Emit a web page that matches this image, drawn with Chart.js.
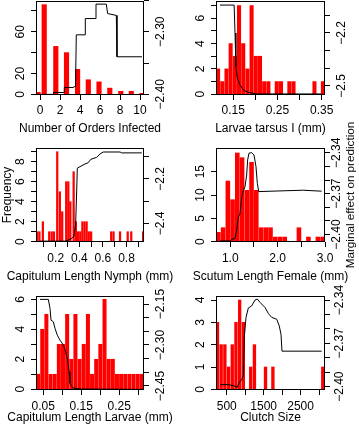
<!DOCTYPE html>
<html>
<head>
<meta charset="utf-8">
<title>Marginal effects and histograms</title>
<script src="https://cdn.jsdelivr.net/npm/chart.js@4.4.1/dist/chart.umd.min.js"></script>
<style>
  html, body { margin: 0; padding: 0; background: #fff; }
  #fig { position: relative; width: 359px; height: 432px; overflow: hidden; }
  #fig canvas { position: absolute; }
  #mlab { position: absolute; width: 220px; left: 240px; top: 188px; text-align: center;
          font: 11.7px "Liberation Sans", Arial, Helvetica, sans-serif; line-height: 14px;
          transform: rotate(-90deg); white-space: nowrap; color: #000; }
</style>
</head>
<body>
<div id="fig">
  <canvas id="p1" width="180" height="147" style="left:0;top:0"></canvas>
  <canvas id="p2" width="179" height="147" style="left:180px;top:0"></canvas>
  <canvas id="p3" width="180" height="163" style="left:0;top:131px"></canvas>
  <canvas id="p4" width="179" height="163" style="left:180px;top:131px"></canvas>
  <canvas id="p5" width="180" height="154" style="left:0;top:278px"></canvas>
  <canvas id="p6" width="179" height="154" style="left:180px;top:278px"></canvas>
  <div id="mlab">Marginal effect on prediction</div>
</div>
<script>
// 6 panels: histogram (left axis, counts) + marginal-effect curve (right axis).
var M = "\u2212";

// --- Number of Orders Infected
var P1_BX = [-0.2, 0.42, 1.58, 2.65, 3.76, 4.83, 5.9, 6.98, 8.08, 9.13, 10.2];
var P1_BY = [2, 86, 46, 40, 24, 14, 12, 6, 3, 3, 1];
var P1_LX = [0, 1.36, 1.36, 2.43, 2.43, 3.3, 3.55, 3.63, 4.53, 4.53, 5.6, 5.6, 6.63, 6.76, 7.63, 7.7, 10.2];
var P1_LY = [-2.400, -2.400, -2.397, -2.397, -2.389, -2.389, -2.387, -2.305, -2.305, -2.279, -2.279, -2.256, -2.256, -2.271, -2.274, -2.340, -2.340];
var P1_XT = [0, 2, 4, 6, 8, 10], P1_XL = ["0", "2", "4", "6", "8", "10"];
var P1_YT = [0, 20, 40, 60, 80], P1_YL = ["0", "20", "", "60", ""];
var P1_Y2T = [-2.40, -2.35, -2.30, -2.25], P1_Y2L = [M + "2.40", "", M + "2.30", ""];

// --- Larvae tarsus I (mm)
var P2_BX = [0.1157, 0.1252, 0.1347, 0.1441, 0.1536, 0.1631, 0.1726, 0.1821, 0.1915, 0.2010, 0.2105, 0.2200, 0.2295, 0.2484, 0.2579, 0.2769, 0.2863, 0.3337, 0.3527];
var P2_BY = [2, 1, 2, 4, 3, 7, 4, 2, 7, 3, 3, 1, 1, 1, 1, 1, 1, 1, 1];
var P2_LX = [0.12, 0.152, 0.154, 0.156, 0.159, 0.165, 0.173, 0.184, 0.203, 0.35];
var P2_LY = [-2.042, -2.042, -2.2, -2.391, -2.451, -2.494, -2.523, -2.536, -2.545, -2.545];
var P2_XT = [0.15, 0.20, 0.25, 0.30, 0.35], P2_XL = ["0.15", "", "0.25", "", "0.35"];
var P2_YT = [0, 1, 2, 3, 4, 5, 6, 7], P2_YL = ["0", "", "2", "", "4", "", "6", ""];
var P2_Y2T = [-2.5, -2.4, -2.3, -2.2, -2.1], P2_Y2L = [M + "2.5", "", "", M + "2.2", ""];

// --- Capitulum Length Nymph (mm)
var P3_BX = [0.043, 0.062, 0.091, 0.145, 0.166, 0.185, 0.213, 0.235, 0.255, 0.289, 0.307, 0.324, 0.352, 0.371, 0.39, 0.408, 0.426, 0.444, 0.462, 0.48, 0.5, 0.67, 0.69, 0.745, 0.81, 0.84, 0.94];
var P3_BY = [1, 1, 2, 1, 1, 1, 9, 5, 3, 6, 6, 4, 7, 2, 1, 1, 2, 2, 2, 1, 1, 1, 1, 1, 1, 1, 1];
var P3_LX = [0.067, 0.279, 0.307, 0.336, 0.355, 0.369, 0.378, 0.383, 0.406, 0.448, 0.476, 0.497, 0.547, 0.575, 0.603, 0.745, 0.759, 0.929];
var P3_LY = [-2.48, -2.48, -2.475, -2.468, -2.457, -2.40, -2.25, -2.152, -2.145, -2.133, -2.127, -2.112, -2.103, -2.088, -2.079, -2.079, -2.083, -2.083];
var P3_XT = [0.1, 0.2, 0.3, 0.4, 0.5, 0.6, 0.7, 0.8, 0.9], P3_XL = ["", "0.2", "", "0.4", "", "0.6", "", "0.8", ""];
var P3_YT = [0, 1, 2, 3, 4, 5, 6, 7, 8, 9], P3_YL = ["0", "", "2", "", "4", "", "6", "", "8", ""];
var P3_Y2T = [-2.4, -2.3, -2.2, -2.1], P3_Y2L = [M + "2.4", "", M + "2.2", ""];

// --- Scutum Length Female (mm)
var P4_BX = [0.75, 0.85, 0.95, 1.05, 1.15, 1.25, 1.35, 1.45, 1.55, 1.65, 1.75, 1.85, 1.95, 2.05, 2.15, 2.45, 2.65, 2.85, 2.95];
var P4_BY = [2, 3, 13, 9, 19, 18, 11, 17, 11, 3, 3, 3, 1, 1, 1, 3, 1, 1, 1];
var P4_LX = [0.784, 0.995, 1.031, 1.10, 1.137, 1.17, 1.206, 1.241, 1.276, 1.312, 1.347, 1.368, 1.396, 1.453, 1.502, 1.544, 1.572, 1.601, 2.05, 2.54, 2.93];
var P4_LY = [-2.4047, -2.4047, -2.4035, -2.403, -2.3967, -2.3873, -2.3849, -2.3734, -2.3678, -2.3649, -2.3563, -2.3453, -2.3403, -2.3399, -2.3416, -2.3502, -2.3624, -2.3685, -2.368, -2.3675, -2.3682];
var P4_XT = [1.0, 1.5, 2.0, 2.5, 3.0], P4_XL = ["1.0", "", "2.0", "", "3.0"];
var P4_YT = [0, 5, 10, 15], P4_YL = ["0", "5", "10", "15"];
var P4_Y2T = [-2.40, -2.39, -2.38, -2.37, -2.36, -2.35, -2.34], P4_Y2L = [M + "2.40", "", "", M + "2.37", "", "", M + "2.34"];

// --- Capitulum Length Larvae (mm)
var P5_BX = [0.0365, 0.0474, 0.0583, 0.0693, 0.0802, 0.0911, 0.1020, 0.1129, 0.1238, 0.1347, 0.1457, 0.1566, 0.1675, 0.1784, 0.1893, 0.2002, 0.2112, 0.2221, 0.2330, 0.2439, 0.2548, 0.2657, 0.2767, 0.2876, 0.2985, 0.3094];
var P5_BY = [1, 4, 5, 1, 1, 3, 3, 5, 2, 5, 2, 3, 5, 1, 2, 3, 6, 2, 2, 1, 1, 1, 1, 1, 1, 1];
var P5_LX = [0.0415, 0.0634, 0.0678, 0.0705, 0.0765, 0.081, 0.087, 0.094, 0.103, 0.109, 0.114, 0.118, 0.1204, 0.1275, 0.1467, 0.313];
var P5_LY = [-2.133, -2.133, -2.166, -2.209, -2.215, -2.239, -2.264, -2.282, -2.30, -2.325, -2.355, -2.398, -2.44, -2.457, -2.461, -2.4625];
var P5_XT = [0.05, 0.10, 0.15, 0.20, 0.25, 0.30], P5_XL = ["0.05", "", "0.15", "", "0.25", ""];
var P5_YT = [0, 1, 2, 3, 4, 5, 6], P5_YL = ["0", "", "2", "", "4", "", "6"];
var P5_Y2T = [-2.45, -2.40, -2.35, -2.30, -2.25, -2.20, -2.15], P5_Y2L = [M + "2.45", "", "", M + "2.30", "", "", M + "2.15"];

// --- Clutch Size
var P6_BX = [250, 350, 450, 550, 650, 750, 850, 950, 1150, 1250, 1550, 1750, 3100];
var P6_BY = [3, 2, 2, 1, 2, 3, 4, 3, 1, 2, 1, 1, 1];
var P6_LX = [318, 543, 678, 786, 824, 905, 950, 976, 1022, 1084, 1176, 1265, 1328, 1401, 1536, 1626, 1717, 1853, 1923, 1969, 1996, 3070];
var P6_LY = [-2.3986, -2.3986, -2.3993, -2.4005, -2.3977, -2.3951, -2.3921, -2.366, -2.352, -2.3456, -2.344, -2.340, -2.3393, -2.3416, -2.3451, -2.3493, -2.352, -2.3533, -2.358, -2.3637, -2.3754, -2.3754];
var P6_XT = [500, 1000, 1500, 2000, 2500, 3000], P6_XL = ["500", "", "1500", "", "2500", ""];
var P6_YT = [0, 1, 2, 3, 4], P6_YL = ["0", "1", "2", "3", "4"];
var P6_Y2T = [-2.40, -2.39, -2.38, -2.37, -2.36, -2.35, -2.34], P6_Y2L = [M + "2.40", "", "", M + "2.37", "", "", M + "2.34"];

var FONT = "'Liberation Sans', Arial, Helvetica, sans-serif";
Chart.defaults.font.family = FONT;
Chart.defaults.font.size = 12;
Chart.defaults.color = "#000";

// R-style frame, x title and y tick labels read bottom-to-top
var rAxes = {
    id: "rAxes",
    afterDraw: function (c, args, o) {
        var ctx = c.ctx, a = c.chartArea;
        ctx.save();
        ctx.font = "12px " + FONT;
        ctx.fillStyle = "#000";
        ctx.textAlign = "center";
        ctx.textBaseline = "middle";
        [["y", o.yl, a.left - o.gl], ["y2", o.y2l, a.right + o.gr]].forEach(function (d) {
            var s = c.scales[d[0]];
            s.ticks.forEach(function (t, i) {
                if (!d[1][i]) return;
                ctx.save();
                ctx.translate(d[2], s.getPixelForValue(t.value));
                ctx.rotate(-Math.PI / 2);
                ctx.fillText(d[1][i], 0, 0);
                ctx.restore();
            });
        });
        ctx.fillText(o.title, (a.left + a.right) / 2, a.bottom + o.tt);
        ctx.strokeStyle = "#000";
        ctx.lineWidth = 1;
        ctx.strokeRect(Math.round(a.left) + 0.5, Math.round(a.top) + 0.5,
                       Math.round(a.right - a.left) - 1, Math.round(a.bottom - a.top) - 1);
        ctx.restore();
    }
};

function panel(id, p) {
    var cv = document.getElementById(id);
    var W = cv.width, H = cv.height, b = p.box;
    var thick = p.bw / (p.xr[1] - p.xr[0]) * (b[2] - b[0]) - p.gap;
    var setTicks = function (vals) { return function (s) { s.ticks = vals.map(function (v) { return { value: v }; }); }; };
    var grid = { drawOnChartArea: false, drawTicks: true, tickLength: 5, color: "#000", lineWidth: 1 };
    new Chart(cv.getContext("2d"), {
        type: "bar",
        data: {
            datasets: [
                { type: "line", yAxisID: "y2", order: 0,
                  data: p.lx.map(function (x, i) { return { x: x, y: p.ly[i] }; }),
                  borderColor: "#000", borderWidth: 1, pointRadius: 0, tension: 0, fill: false },
                { type: "bar", yAxisID: "y", order: 1,
                  data: p.bx.map(function (x, i) { return { x: x, y: p.by[i] }; }),
                  backgroundColor: "#ff0000", borderWidth: 0, barThickness: thick }
            ]
        },
        plugins: [rAxes],
        options: {
            responsive: false, animation: false, events: [],
            layout: { padding: { top: b[1], left: 0, right: 0, bottom: 0 } },
            plugins: { legend: { display: false }, tooltip: { enabled: false },
                       rAxes: { yl: p.yl, y2l: p.y2l, gl: 15, gr: p.gr, title: p.title, tt: p.tt } },
            scales: {
                x: { type: "linear", position: "bottom", min: p.xr[0], max: p.xr[1], bounds: "data",
                     offset: false, border: { display: false }, grid: Object.assign({ offset: false }, grid),
                     ticks: { autoSkip: false, maxRotation: 0, minRotation: 0, padding: p.tl - 12.2,
                              callback: function (v, i) { return p.xl[i]; } },
                     afterBuildTicks: setTicks(p.xt),
                     afterFit: function (s) { s.height = H - b[3]; } },
                y: { type: "linear", position: "left", min: p.yr[0], max: p.yr[1], bounds: "data",
                     border: { display: false }, grid: grid, ticks: { display: false },
                     afterBuildTicks: setTicks(p.yt),
                     afterFit: function (s) { s.width = b[0]; },
                     title: { display: !!p.ytitle, text: p.ytitle || "", color: "#000", font: { size: 12 },
                              padding: { top: 0.8, bottom: 0 } } },
                y2: { type: "linear", position: "right", min: p.y2r[0], max: p.y2r[1], bounds: "data",
                      border: { display: false }, grid: grid, ticks: { display: false },
                      afterBuildTicks: setTicks(p.y2t),
                      afterFit: function (s) { s.width = W - b[2]; } }
            }
        }
    });
}

panel("p1", { box: [36, 1, 144, 95], xr: [-0.4, 10.4], yr: [-0.6, 89.5], y2r: [-2.401, -2.251],
    bx: P1_BX, by: P1_BY, bw: 0.45, gap: 0, lx: P1_LX, ly: P1_LY,
    xt: P1_XT, xl: P1_XL, yt: P1_YT, yl: P1_YL, y2t: P1_Y2T, y2l: P1_Y2L,
    tl: 16, tt: 33.5, gr: 17, title: "Number of Orders Infected" });
panel("p2", { box: [36, 1, 145, 95], xr: [0.111, 0.3575], yr: [-0.06, 7.36], y2r: [-2.551, -2.019],
    bx: P2_BX, by: P2_BY, bw: 0.00948, gap: 0.8, lx: P2_LX, ly: P2_LY,
    xt: P2_XT, xl: P2_XL, yt: P2_YT, yl: P2_YL, y2t: P2_Y2T, y2l: P2_Y2L,
    tl: 16, tt: 33.5, gr: 17, title: "Larvae tarsus I (mm)" });
panel("p3", { box: [36, 17, 144, 111], xr: [0.033, 0.948], yr: [-0.03, 9.37], y2r: [-2.484, -2.061],
    bx: P3_BX, by: P3_BY, bw: 0.0185, gap: 0.6, lx: P3_LX, ly: P3_LY,
    xt: P3_XT, xl: P3_XL, yt: P3_YT, yl: P3_YL, y2t: P3_Y2T, y2l: P3_Y2L,
    tl: 17, tt: 34.5, gr: 17, title: "Capitulum Length Nymph (mm)", ytitle: "Frequency" });
panel("p4", { box: [36, 17, 145, 111], xr: [0.7, 3.0], yr: [-0.06, 20.07], y2r: [-2.4055, -2.3365],
    bx: P4_BX, by: P4_BY, bw: 0.1, gap: 0.8, lx: P4_LX, ly: P4_LY,
    xt: P4_XT, xl: P4_XL, yt: P4_YT, yl: P4_YL, y2t: P4_Y2T, y2l: P4_Y2L,
    tl: 17, tt: 34.5, gr: 12, title: "Scutum Length Female (mm)" });
panel("p5", { box: [36, 18, 144, 112], xr: [0.031, 0.315], yr: [-0.05, 6.22], y2r: [-2.4647, -2.1207],
    bx: P5_BX, by: P5_BY, bw: 0.01092, gap: 0.8, lx: P5_LX, ly: P5_LY,
    xt: P5_XT, xl: P5_XL, yt: P5_YT, yl: P5_YL, y2t: P5_Y2T, y2l: P5_Y2L,
    tl: 16.5, tt: 28, gr: 17, title: "Capitulum Length Larvae (mm)" });
panel("p6", { box: [36, 18, 145, 112], xr: [210, 3160], yr: [-0.03, 4.18], y2r: [-2.4023, -2.3372],
    bx: P6_BX, by: P6_BY, bw: 100, gap: 1, lx: P6_LX, ly: P6_LY,
    xt: P6_XT, xl: P6_XL, yt: P6_YT, yl: P6_YL, y2t: P6_Y2T, y2l: P6_Y2L,
    tl: 16.5, tt: 28, gr: 15, title: "Clutch Size" });
</script>
</body>
</html>
